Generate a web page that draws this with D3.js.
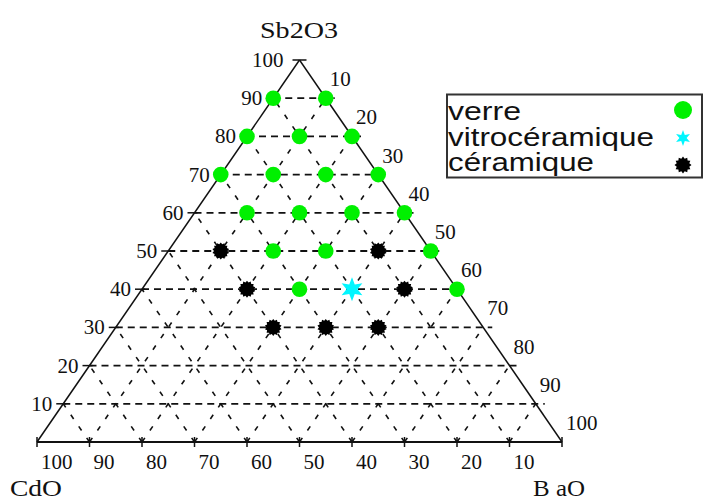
<!DOCTYPE html>
<html>
<head>
<meta charset="utf-8">
<script src="https://cdn.jsdelivr.net/npm/d3@7"></script>
<style>
  html, body { margin: 0; padding: 0; background: #fff; }
  svg { display: block; }
</style>
</head>
<body>
<svg id="chart" width="703" height="500"></svg>
<script>
// Compositions as [Sb2O3, BaO, CdO] in mol %
const verre = [
  [90, 0, 10], [90, 10, 0],
  [80, 0, 20], [80, 10, 10], [80, 20, 0],
  [70, 0, 30], [70, 10, 20], [70, 20, 10], [70, 30, 0],
  [60, 10, 30], [60, 20, 20], [60, 30, 10], [60, 40, 0],
  [50, 20, 30], [50, 30, 20], [50, 50, 0],
  [40, 30, 30], [40, 60, 0]
];
const vitroceramique = [[40, 40, 20]];
const ceramique = [
  [50, 10, 40], [50, 40, 10],
  [40, 20, 40], [40, 50, 10],
  [30, 30, 40], [30, 40, 30], [30, 50, 20]
];

const gridValues = [10, 20, 30, 40, 50, 60, 70, 80, 90];
const sbTicks = [10, 20, 30, 40, 50, 60, 70, 80, 90, 100];
const baoTicks = [10, 20, 30, 40, 50, 60, 70, 80, 90, 100];
const cdoTicks = [100, 90, 80, 70, 60, 50, 40, 30, 20, 10];

const legendLabels = ["verre", "vitrocéramique", "céramique"];
const legendWidths = [73, 206, 146];

const svg = d3.select("#chart");

// Sb2O3 drives height, (BaO + Sb2O3/2) drives the horizontal position
const yS = d3.scaleLinear().domain([0, 100]).range([442, 60]);
const xS = d3.scaleLinear().domain([0, 100]).range([37, 562]);
const pt = (sb, bao) => [xS(bao + sb / 2), yS(sb)];

const g = svg.append("g");

// Horizontal iso-Sb2O3 dashed lines
gridValues.forEach(a => {
  const [x0, y] = pt(a, 0);
  const [x1] = pt(a, 100 - a);
  g.append("line").attr("x1", x0).attr("y1", y).attr("x2", x1 + 9).attr("y2", y)
    .attr("stroke", "#111").attr("stroke-width", 1.8).attr("stroke-dasharray", "7,5");
});

// Iso-BaO lines (parallel to the left edge) and iso-CdO lines (parallel to the right edge)
gridValues.forEach(v => {
  const b0 = pt(0, v);
  const b1 = pt(100 - v, v);
  g.append("line").attr("x1", b0[0]).attr("y1", b0[1]).attr("x2", b1[0]).attr("y2", b1[1])
    .attr("stroke", "#111").attr("stroke-width", 1.6).attr("stroke-dasharray", "5,9");
  const c0 = pt(0, 100 - v);
  const c1 = pt(100 - v, 0);
  g.append("line").attr("x1", c0[0]).attr("y1", c0[1]).attr("x2", c1[0]).attr("y2", c1[1])
    .attr("stroke", "#111").attr("stroke-width", 1.6).attr("stroke-dasharray", "5,9");
});

// Triangle frame
const A = pt(100, 0), L = pt(0, 0), R = pt(0, 100);
g.append("line").attr("x1", L[0]).attr("y1", L[1]).attr("x2", A[0]).attr("y2", A[1])
  .attr("stroke", "#111").attr("stroke-width", 1.5);
g.append("line").attr("x1", A[0]).attr("y1", A[1]).attr("x2", R[0]).attr("y2", R[1])
  .attr("stroke", "#111").attr("stroke-width", 1.5);
g.append("line").attr("x1", L[0]).attr("y1", L[1]).attr("x2", R[0]).attr("y2", R[1])
  .attr("stroke", "#111").attr("stroke-width", 2);

// Tick marks
sbTicks.forEach(a => {
  const [x, y] = pt(a, 0);
  g.append("line").attr("x1", x - 7).attr("y1", y).attr("x2", x + (a === 100 ? 7 : 3)).attr("y2", y)
    .attr("stroke", "#111").attr("stroke-width", 1.5);
});
[0, ...gridValues, 100].forEach(b => {
  const [x, y] = pt(0, b);
  g.append("line").attr("x1", x).attr("y1", y - 5).attr("x2", x).attr("y2", y + 5)
    .attr("stroke", "#111").attr("stroke-width", 1.5);
});

// Tick labels
const labelFont = "'Liberation Serif', 'DejaVu Serif', serif";
const tl = svg.append("g").attr("font-family", labelFont).attr("font-size", 21).attr("fill", "#111");
sbTicks.forEach(a => {
  const [x, y] = pt(a, 0);
  tl.append("text").attr("x", x - (a === 100 ? 16 : 11)).attr("y", y)
    .attr("text-anchor", "end").attr("dominant-baseline", "central").text(a);
});
baoTicks.forEach(b => {
  const [x, y] = pt(100 - b, b);
  tl.append("text").attr("x", x + 4).attr("y", y - 19)
    .attr("dominant-baseline", "central").text(b);
});
cdoTicks.forEach(c => {
  const [x, y] = pt(0, 100 - c);
  tl.append("text").attr("x", x + 4).attr("y", y + 20)
    .attr("dominant-baseline", "central").text(c);
});

// Component titles
const titles = [
  { text: "Sb2O3", x: 260, y: 30, w: 78 },
  { text: "CdO", x: 10, y: 488, w: 52 },
  { text: "B aO", x: 533, y: 488, w: 52 }
];
svg.append("g").selectAll("text").data(titles).join("text")
  .attr("x", d => d.x).attr("y", d => d.y)
  .attr("dominant-baseline", "central")
  .attr("font-family", labelFont).attr("font-size", 23).attr("fill", "#111")
  .attr("textLength", d => d.w).attr("lengthAdjust", "spacingAndGlyphs")
  .text(d => d.text);

// Marker shapes
const starPath = (outer, inner, n) => {
  const pts = [];
  for (let i = 0; i < 2 * n; i++) {
    const r = i % 2 === 0 ? outer : inner;
    const ang = -Math.PI / 2 + i * Math.PI / n;
    pts.push([r * Math.cos(ang), r * Math.sin(ang)]);
  }
  return d3.line()(pts) + "Z";
};
const blobPath = starPath(8.5, 6.8, 14);

const marks = svg.append("g");
marks.selectAll("circle.verre").data(verre).join("circle")
  .attr("class", "verre")
  .attr("cx", d => pt(d[0], d[1])[0]).attr("cy", d => pt(d[0], d[1])[1])
  .attr("r", 7.8).attr("fill", "#00f000");
marks.selectAll("path.ceram").data(ceramique).join("path")
  .attr("class", "ceram")
  .attr("transform", d => `translate(${pt(d[0], d[1])})`)
  .attr("d", blobPath).attr("fill", "#000");
marks.selectAll("path.vitro").data(vitroceramique).join("path")
  .attr("class", "vitro")
  .attr("transform", d => `translate(${pt(d[0], d[1])})`)
  .attr("d", starPath(12, 5.5, 6)).attr("fill", "#00f6ff");

// Legend
const lg = svg.append("g");
lg.append("rect").attr("x", 447).attr("y", 94.5).attr("width", 255).attr("height", 83)
  .attr("fill", "#fff").attr("stroke", "#333").attr("stroke-width", 2);
const baselines = [120, 146, 171];
lg.selectAll("text").data(legendLabels).join("text")
  .attr("x", 448).attr("y", (d, i) => baselines[i])
  .attr("font-family", "'Liberation Sans', Arial, sans-serif").attr("font-size", 26)
  .attr("fill", "#111")
  .attr("textLength", (d, i) => legendWidths[i]).attr("lengthAdjust", "spacingAndGlyphs")
  .text(d => d);
lg.append("circle").attr("cx", 683).attr("cy", 110).attr("r", 9).attr("fill", "#00f000");
lg.append("path").attr("transform", "translate(683,138)").attr("d", starPath(8, 3.6, 6)).attr("fill", "#00f6ff");
lg.append("path").attr("transform", "translate(683,165)").attr("d", starPath(8.5, 6.5, 12)).attr("fill", "#000");
</script>
</body>
</html>
